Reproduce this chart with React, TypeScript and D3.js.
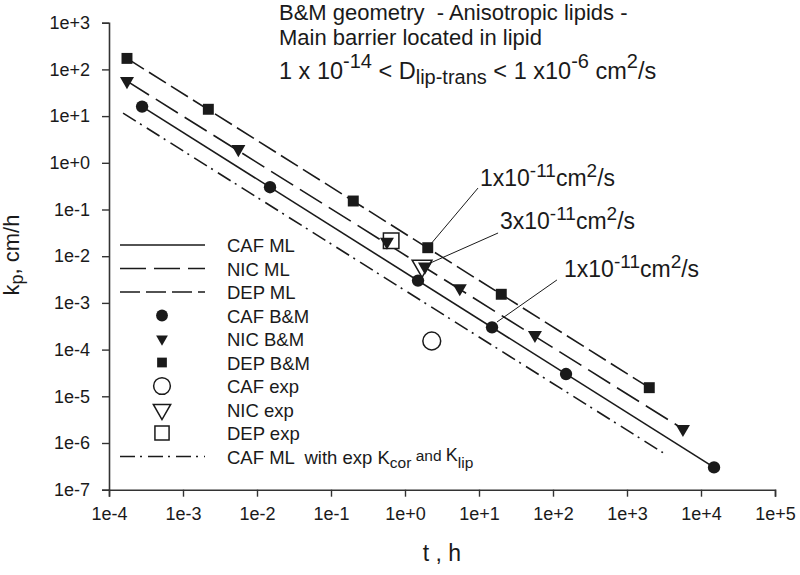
import { useEffect, useRef } from 'react';
import * as d3 from 'd3';

// model / simulation series (t in h, kp in cm/h)
const cafBmT = [2.8e-4, 0.015, 1.5, 15, 150, 15000];
const cafBmKp = [16, 0.3, 0.003, 3e-4, 3e-5, 3e-7];
const nicBmT = [1.75e-4, 5.6e-3, 0.57, 1.86, 5.5, 57, 5700];
const nicBmKp = [56, 1.97, 0.0204, 0.006, 0.00206, 2.06e-4, 2e-6];
const depBmT = [1.75e-4, 2.2e-3, 0.2, 2.03, 20, 2000];
const depBmKp = [172, 14, 0.152, 0.0152, 0.00153, 1.53e-5];

// experimental points: CAF, NIC, DEP
const expT = [2.3, 1.7, 0.65];
const expKp = [1.53e-4, 0.0062, 0.0214];

// ML lines (endpoints)
const cafMlT = [2.8e-4, 1.5e4];
const cafMlKp = [16, 3e-7];
const nicMlT = [1.75e-4, 5700];
const nicMlKp = [56, 2e-6];
const depMlT = [1.75e-4, 2000];
const depMlKp = [172, 1.53e-5];
const cafExpMlT = [1.55e-4, 3060];
const cafExpMlKp = [11.6, 6.2e-7];

const xTicks = [1e-4, 1e-3, 1e-2, 1e-1, 1e0, 1e1, 1e2, 1e3, 1e4, 1e5];
const xTickLabels = ['1e-4', '1e-3', '1e-2', '1e-1', '1e+0', '1e+1', '1e+2', '1e+3', '1e+4', '1e+5'];
const yTicks = [1e3, 1e2, 1e1, 1e0, 1e-1, 1e-2, 1e-3, 1e-4, 1e-5, 1e-6, 1e-7];
const yTickLabels = ['1e+3', '1e+2', '1e+1', '1e+0', '1e-1', '1e-2', '1e-3', '1e-4', '1e-5', '1e-6', '1e-7'];

const legendLabels = ['CAF ML', 'NIC ML', 'DEP ML', 'CAF B&M', 'NIC B&M', 'DEP B&M', 'CAF exp', 'NIC exp', 'DEP exp'];

// annotations: label position, leader start, leader end (data space)
const annLabels = ['1', '3', '1'];
const annTextT = [10.3, 19.2, 141];
const annTextKp = [0.318, 0.0382, 0.00359];
const annFromT = [9.7, 18.1, 113];
const annFromKp = [0.288, 0.0314, 0.0031];
const annToT = [2.18, 1.92, 17.5];
const annToKp = [0.0174, 0.0065, 3.9e-4];

const FONT = 'Liberation Sans, Arial, sans-serif';
const INK = '#1a1a1a';

type Part = [string, number, number]; // text, font size, baseline offset

const richText = (sel: any, x: number, y: number, parts: Part[]) => {
  const t = sel.append('text')
    .attr('x', x)
    .attr('y', y)
    .style('font-family', FONT)
    .style('white-space', 'pre')
    .attr('fill', INK);
  let prev = 0;
  parts.forEach(([s, size, off]) => {
    t.append('tspan')
      .attr('dy', off - prev)
      .style('font-size', `${size}px`)
      .text(s);
    prev = off;
  });
  return t;
};

const Chart = () => {
  const svgRef = useRef<SVGSVGElement>(null);

  useEffect(() => {
    if (!svgRef.current) return;
    const svg = d3.select(svgRef.current);
    svg.selectAll('*').remove();

    const x = d3.scaleLog().domain([1e-4, 1e5]).range([109, 775]);
    const y = d3.scaleLog().domain([1e-7, 1e3]).range([489.7, 22.7]);

    // axes
    const xAxis = svg.append('g')
      .attr('transform', `translate(0,${y(1e-7)})`)
      .call(d3.axisBottom(x).tickValues(xTicks).tickSize(7).tickPadding(11)
        .tickFormat((_, i) => xTickLabels[i]));
    const yAxis = svg.append('g')
      .attr('transform', `translate(${x(1e-4)},0)`)
      .call(d3.axisLeft(y).tickValues(yTicks).tickSize(7).tickPadding(12)
        .tickFormat((_, i) => yTickLabels[i]));
    [xAxis, yAxis].forEach(a => {
      a.select('.domain').attr('stroke', '#333').attr('stroke-width', 1.6);
      a.selectAll('.tick line').attr('stroke', '#333').attr('stroke-width', 1.4);
      a.selectAll('.tick text')
        .style('font-family', FONT)
        .style('font-size', '18px')
        .attr('fill', INK);
    });

    // ML lines
    const line = d3.line<[number, number]>().x(d => x(d[0])).y(d => y(d[1]));
    const lines: [number[], number[], string][] = [
      [cafMlT, cafMlKp, 'none'],
      [nicMlT, nicMlKp, '26,8'],
      [depMlT, depMlKp, '20,6'],
      [cafExpMlT, cafExpMlKp, '15,5,2,6'],
    ];
    lines.forEach(([ts, ks, dash]) => {
      svg.append('path')
        .datum(ts.map((t, i) => [t, ks[i]] as [number, number]))
        .attr('d', line)
        .attr('fill', 'none')
        .attr('stroke', INK)
        .attr('stroke-width', 1.6)
        .attr('stroke-dasharray', dash);
    });

    const sym = (type: d3.SymbolType, size: number) => d3.symbol().type(type).size(size)();
    const triDown = (size: number) => sym(d3.symbolTriangle, size);

    // experimental (open) markers
    const openStyle = (p: any) => p.attr('fill', 'white').attr('stroke', INK).attr('stroke-width', 1.5);
    openStyle(svg.append('path')
      .attr('transform', `translate(${x(expT[0])},${y(expKp[0])})`)
      .attr('d', sym(d3.symbolCircle, 250)));
    openStyle(svg.append('path')
      .attr('transform', `translate(${x(expT[2])},${y(expKp[2])})`)
      .attr('d', sym(d3.symbolSquare, 240)));
    openStyle(svg.append('path')
      .attr('transform', `translate(${x(expT[1])},${y(expKp[1])}) rotate(180)`)
      .attr('d', triDown(170)));

    // B&M filled markers
    svg.selectAll('.caf').data(cafBmT).enter().append('path')
      .attr('transform', (d, i) => `translate(${x(d)},${y(cafBmKp[i])})`)
      .attr('d', sym(d3.symbolCircle, 120))
      .attr('fill', INK);
    svg.selectAll('.nic').data(nicBmT).enter().append('path')
      .attr('transform', (d, i) => `translate(${x(d)},${y(nicBmKp[i])}) rotate(180)`)
      .attr('d', triDown(85))
      .attr('fill', INK);
    svg.selectAll('.dep').data(depBmT).enter().append('path')
      .attr('transform', (d, i) => `translate(${x(d)},${y(depBmKp[i])})`)
      .attr('d', sym(d3.symbolSquare, 120))
      .attr('fill', INK);

    // annotations
    annLabels.forEach((lab, i) => {
      svg.append('line')
        .attr('x1', x(annFromT[i])).attr('y1', y(annFromKp[i]))
        .attr('x2', x(annToT[i])).attr('y2', y(annToKp[i]))
        .attr('stroke', INK).attr('stroke-width', 1);
      richText(svg, x(annTextT[i]), y(annTextKp[i]), [
        [`${lab}x10`, 23, 0], ['-11', 19, -9], ['cm', 23, 0], ['2', 19, -9], ['/s', 23, 0],
      ]);
    });

    // title
    richText(svg, 279, 20, [['B&M geometry  - Anisotropic lipids -', 22, 0]]);
    richText(svg, 279, 45, [['Main barrier located in lipid', 22, 0]]);
    richText(svg, 279, 79, [
      ['1 x 10', 23.5, 0], ['-14', 20, -11], [' < D', 23.5, 0], ['lip-trans', 20, 5],
      [' < 1 x10', 23.5, 0], ['-6', 20, -11], [' cm', 23.5, 0], ['2', 20, -11], ['/s', 23.5, 0],
    ]);

    // legend
    const lgX0 = 120, lgX1 = 205, lgSym = 162, lgText = 227, lgY = 245, lgStep = 23.5;
    const lgDash = ['none', '26,8', '20,6'];
    const lg = svg.append('g');
    legendLabels.forEach((lab, i) => {
      const yy = lgY + i * lgStep;
      if (i < 3) {
        lg.append('line').attr('x1', lgX0).attr('x2', lgX1).attr('y1', yy).attr('y2', yy)
          .attr('stroke', INK).attr('stroke-width', 1.6).attr('stroke-dasharray', lgDash[i]);
      }
      const m = lg.append('path').attr('transform', `translate(${lgSym},${yy})${i === 4 || i === 7 ? ' rotate(180)' : ''}`);
      if (i === 3) m.attr('d', sym(d3.symbolCircle, 110)).attr('fill', INK);
      if (i === 4) m.attr('d', triDown(60)).attr('fill', INK);
      if (i === 5) m.attr('d', sym(d3.symbolSquare, 95)).attr('fill', INK);
      if (i === 6) openStyle(m.attr('d', sym(d3.symbolCircle, 220)));
      if (i === 7) openStyle(m.attr('d', triDown(130)));
      if (i === 8) openStyle(m.attr('d', sym(d3.symbolSquare, 200)));
      richText(lg, lgText, yy + 7, [[lab, 18.5, 0]]);
    });
    const yLast = lgY + 9 * lgStep;
    lg.append('line').attr('x1', lgX0).attr('x2', lgX1).attr('y1', yLast).attr('y2', yLast)
      .attr('stroke', INK).attr('stroke-width', 1.6).attr('stroke-dasharray', '15,5,2,6');
    richText(lg, lgText, yLast + 7, [
      ['CAF ML  with exp K', 18.5, 0], ['cor', 15.5, 4], [' and ', 15.5, -3], ['K', 18, -3], ['lip', 15.5, 4],
    ]);

    // axis titles
    richText(svg, 442, 561, [['t , h', 23, 0]]).attr('text-anchor', 'middle');
    const yl = svg.append('g').attr('transform', 'translate(19,255) rotate(-90)');
    richText(yl, 0, 0, [['k', 22, 0], ['p', 18, 4], [', cm/h', 22, 0]]).attr('text-anchor', 'middle');
  }, []);

  return (
    <svg ref={svgRef} width={800} height={575}
      style={{ position: 'absolute', left: 0, top: 0, background: 'white', display: 'block' }} />
  );
};

export default function App() {
  return <Chart />;
}
